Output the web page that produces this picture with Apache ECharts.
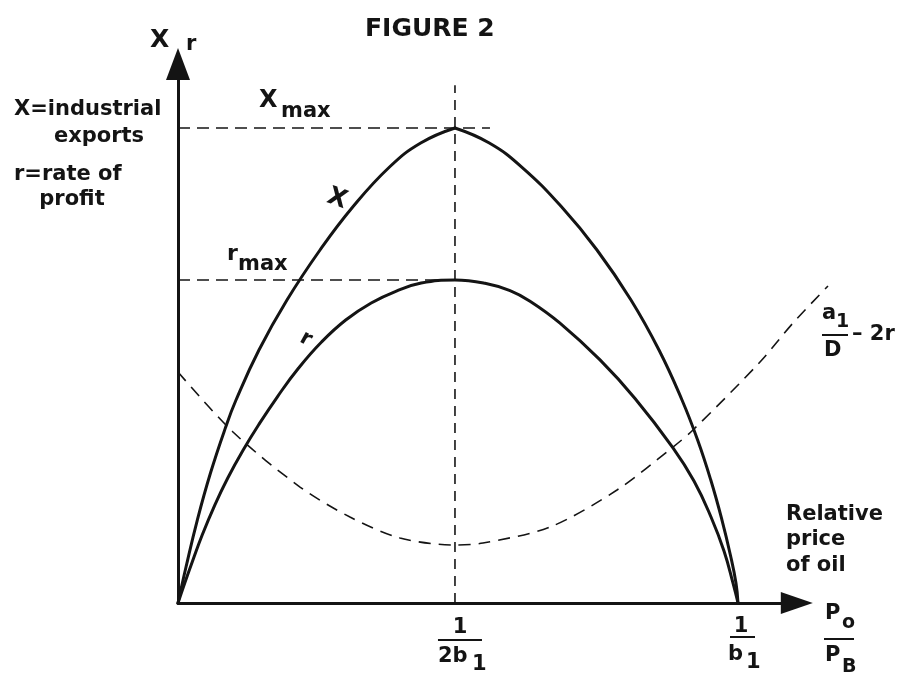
<!DOCTYPE html>
<html>
<head>
<meta charset="utf-8">
<script src="https://cdn.jsdelivr.net/npm/echarts@6/dist/echarts.min.js"></script>
<style>
  html, body { margin: 0; padding: 0; background: #fff; }
  #c { width: 904px; height: 678px; }
</style>
</head>
<body>
<div id="c"></div>
<script>
// Relative price of oil on x, in units where 1/b1 = 100.
// X (industrial exports) and r (rate of profit) on y, in units where Xmax = 100.
const priceTicks = [49.46, 100];          // 1/(2b1) and 1/b1
const xMaxLevel = 100;
const rMaxLevel = 68;

// X rises to a pointed maximum at 1/(2b1), then falls back to zero at 1/b1
const exportsRising = [
  [0, 0], [1.43, 7.58], [3.45, 17.47], [5.80, 27.37], [8.52, 37.05],
  [10.36, 42.74], [14.46, 53.26], [19.46, 63.79], [25.36, 74.32],
  [31.20, 83.37], [37.77, 91.79], [43.34, 96.84], [49.46, 100]
];
const exportsFalling = [
  [49.46, 100], [55.59, 96.84], [61.38, 91.79], [68.52, 83.37], [74.82, 74.32],
  [80.89, 63.79], [85.89, 53.26], [90.0, 42.74], [92.79, 34.32],
  [95.14, 25.89], [97.14, 17.47], [98.64, 10.11], [99.64, 4.21], [100, 0]
];

const profitCurve = [
  [0, 0], [1.21, 4.21], [2.54, 8.63], [4.32, 14.32], [6.57, 20.63],
  [8.89, 26.32], [11.64, 32.21], [14.38, 37.47], [17.84, 43.58],
  [21.54, 49.47], [25.63, 54.95], [29.95, 59.58], [34.5, 63.16],
  [39.0, 65.68], [43.43, 67.37], [49.46, 68.0], [54.82, 67.31],
  [59.29, 65.77], [62.86, 63.54], [68.21, 58.93], [75.36, 51.18],
  [81.61, 43.07], [88.39, 32.67], [92.14, 25.68], [95.18, 18.11],
  [97.5, 10.95], [99.11, 4.21], [100, 0]
];

// a1/D - 2r
const demandCurve = [
  [0, 48.63], [9.82, 36.0], [21.79, 24.42], [30.71, 18.1], [39.64, 13.68],
  [49.46, 12.21], [54.46, 12.63], [66.43, 16.0], [78.39, 23.79],
  [88.39, 32.84], [91.96, 36.42], [103.93, 50.74], [109.82, 58.95], [116.07, 66.74]
];

const xMaxGuide = [[0, xMaxLevel], [55.71, xMaxLevel]];
const rMaxGuide = [[0, rMaxLevel], [priceTicks[0], rMaxLevel]];
const peakGuide = [[priceTicks[0], 0], [priceTicks[0], 109]];

const INK = '#141414';
const FONT = '"DejaVu Sans", "Liberation Sans", sans-serif';
const PX_PER_X = 5.6, PX_PER_Y = 4.75;

function solid(name, data) {
  return {
    name, type: 'line', data, smooth: 0.45, showSymbol: false, silent: true,
    lineStyle: { color: INK, width: 3, cap: 'round', join: 'round' }, z: 3
  };
}
function dashed(name, data, dash, smooth, gridIdx) {
  return {
    name, type: 'line', data, smooth: smooth || false, showSymbol: false, silent: true,
    xAxisIndex: gridIdx || 0, yAxisIndex: gridIdx || 0,
    lineStyle: { color: INK, width: 1.6, type: dash }, z: 2
  };
}

const hiddenAxis = { show: false, axisLine: { show: false }, axisTick: { show: false },
  axisLabel: { show: false }, splitLine: { show: false } };

const chart = echarts.init(document.getElementById('c'), null, { renderer: 'canvas' });

chart.setOption({
  animation: false,
  backgroundColor: '#fff',
  grid: [
    { left: 178, top: 63.9, width: 110.5 * PX_PER_X, height: 113.5 * PX_PER_Y, containLabel: false, outerBoundsMode: 'none' },
    // same scale, wider extent, for the demand curve that runs past the axis arrow
    { left: 178, top: 63.9, width: 117 * PX_PER_X, height: 113.5 * PX_PER_Y, containLabel: false, outerBoundsMode: 'none' }
  ],
  xAxis: [{
    type: 'value', min: 0, max: 110.5, gridIndex: 0,
    axisLine: { show: true, onZero: true, symbol: ['none', 'triangle'], symbolSize: [22, 32],
      lineStyle: { color: INK, width: 3 } },
    axisTick: { show: false }, axisLabel: { show: false }, splitLine: { show: false }
  }, Object.assign({ type: 'value', min: 0, max: 117, gridIndex: 1 }, hiddenAxis)],
  yAxis: [{
    type: 'value', min: 0, max: 113.5, gridIndex: 0,
    axisLine: { show: true, symbol: ['none', 'triangle'], symbolSize: [24, 32],
      lineStyle: { color: INK, width: 3 } },
    axisTick: { show: false }, axisLabel: { show: false }, splitLine: { show: false }
  }, Object.assign({ type: 'value', min: 0, max: 113.5, gridIndex: 1 }, hiddenAxis)],
  series: [
    dashed('peak', peakGuide, [10, 7]),
    dashed('Xmax', xMaxGuide, [12, 7]),
    dashed('rmax', rMaxGuide, [12, 7]),
    dashed('a1/D - 2r', demandCurve, [12, 8], 0.3, 1),
    solid('X', exportsRising),
    solid('X', exportsFalling),
    solid('r', profitCurve)
  ]
});

function txt(s, x, y, size, align, rotation) {
  return {
    type: 'text', x, y, rotation: rotation || 0, silent: true, z: 10,
    style: { text: s, fill: INK, fontFamily: FONT, fontWeight: 'bold', fontSize: size,
      align: align || 'left', verticalAlign: 'middle' }
  };
}
function bar(x1, x2, y) {
  return { type: 'line', silent: true, z: 10,
    shape: { x1, y1: y, x2, y2: y }, style: { stroke: INK, lineWidth: 2 } };
}

const toPx = (pt) => chart.convertToPixel({ gridIndex: 0 }, pt);
const tHalf = toPx([priceTicks[0], 0]);
const tOne = toPx([priceTicks[1], 0]);

const g = [
  txt('FIGURE 2', 365, 29, 25),
  // y axis name
  txt('X', 150, 40, 25),
  txt('r', 186, 45, 21),
  // definitions
  txt('X=industrial', 14, 110, 21),
  txt('exports', 99, 137, 21, 'center'),
  txt('r=rate of', 14, 175, 21),
  txt('profit', 72, 200, 21, 'center'),
  // maxima
  txt('X', 259, 101, 24),
  txt('max', 281, 112, 21),
  txt('r', 227, 254, 22),
  txt('max', 238, 265, 21),
  // curve names
  txt('X', 337, 199, 25, 'center', -0.35),
  txt('r', 306, 339, 21, 'center', -0.5),
  // 1/(2b1)
  txt('1', tHalf[0] + 5, tHalf[1] + 25, 21, 'center'),
  bar(tHalf[0] - 17, tHalf[0] + 27, tHalf[1] + 37),
  txt('2b', tHalf[0] - 17, tHalf[1] + 54, 21),
  txt('1', tHalf[0] + 17, tHalf[1] + 62, 21),
  // 1/b1
  txt('1', tOne[0] + 3, tOne[1] + 24, 21, 'center'),
  bar(tOne[0] - 8, tOne[0] + 17, tOne[1] + 34),
  txt('b', tOne[0] - 10, tOne[1] + 52, 21),
  txt('1', tOne[0] + 8, tOne[1] + 60, 21),
  // axis title
  txt('Relative', 786, 515, 21),
  txt('price', 786, 540, 21),
  txt('of oil', 786, 566, 21),
  txt('P', 825, 614, 21),
  txt('o', 842, 623, 19),
  bar(824, 854, 639),
  txt('P', 825, 656, 21),
  txt('B', 842, 667, 19),
  // a1/D - 2r
  txt('a', 822, 314, 21),
  txt('1', 836, 322, 19),
  bar(822, 848, 335),
  txt('D', 824, 351, 21),
  txt('\u2013 2r', 852, 335, 21)
];

chart.setOption({ graphic: g });
</script>
</body>
</html>
